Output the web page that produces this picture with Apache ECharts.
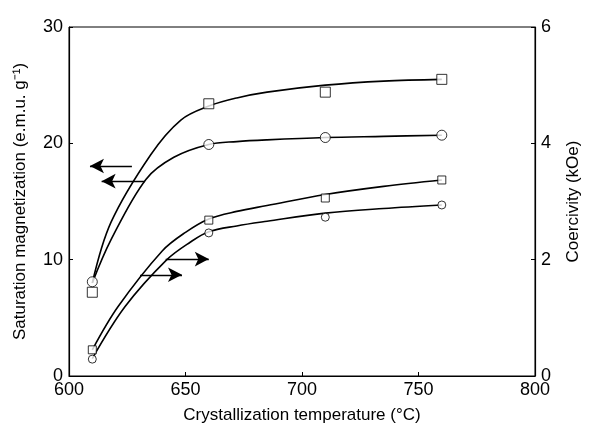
<!DOCTYPE html>
<html>
<head>
<meta charset="utf-8">
<script src="https://cdn.jsdelivr.net/npm/echarts@6/dist/echarts.min.js"></script>
<style>
  html, body { margin: 0; padding: 0; background: #fff; }
  #chart { width: 590px; height: 430px; }
</style>
</head>
<body>
<div id="chart"></div>
<script>
// measured points (crystallization temperature, °C)
const temps = [610, 660, 710, 760]
const magSquare = [7.2, 23.4, 24.4, 25.5]    // e.m.u. g-1
const magCircle = [8.1, 19.9, 20.5, 20.7]
const coerSquare = [0.45, 2.68, 3.06, 3.37]  // kOe
const coerCircle = [0.29, 2.46, 2.73, 2.94]

// fitted curves
const fitMagSqX = [610, 618, 635, 648, 660, 672, 685, 710, 735, 760]
const fitMagSqY = [8.0, 13.2, 19.0, 22.0, 23.2, 23.9, 24.4, 25.0, 25.35, 25.5]
const fitMagCiX = [610, 618, 633, 645, 660, 672, 685, 710, 735, 760]
const fitMagCiY = [8.0, 11.7, 16.9, 18.8, 19.9, 20.15, 20.3, 20.5, 20.6, 20.7]
const fitCoSqX = [610, 621, 640, 650, 660, 672, 685, 710, 735, 760]
const fitCoSqY = [0.45, 1.19, 2.15, 2.47, 2.7, 2.83, 2.93, 3.12, 3.26, 3.37]
const fitCoCiX = [610, 624, 642, 652, 660, 672, 685, 710, 735, 760]
const fitCoCiY = [0.3, 1.19, 2.0, 2.3, 2.48, 2.58, 2.66, 2.8, 2.88, 2.94]

// arrows [x from, y, x to]
const arrowsMag = [[627, 18.05, 609], [632.5, 16.75, 614]]
const arrowsCoer = [[641.5, 2.01, 660], [630.5, 1.74, 648.5]]

const zip = (xs, ys) => xs.map((x, i) => [x, ys[i]])

const lineStyle = { color: '#000', width: 1.6 }
function fitLine(xs, ys, axis, extra) {
  return Object.assign({
    type: 'line',
    yAxisIndex: axis,
    data: zip(xs, ys),
    smooth: 0.35,
    showSymbol: false,
    lineStyle: lineStyle,
    z: 2,
  }, extra || {})
}
function points(ys, axis, symbol, size) {
  return {
    type: 'scatter',
    yAxisIndex: axis,
    data: zip(temps, ys),
    symbol: symbol,
    symbolSize: size,
    itemStyle: { color: '#fff', borderColor: '#000', borderWidth: 1 },
    z: 5,
  }
}
function arrowMark(list) {
  return {
    silent: true,
    symbol: ['none', 'arrow'],
    symbolSize: [11, 14],
    label: { show: false },
    lineStyle: { color: '#000', width: 1.4, type: 'solid' },
    data: list.map(a => [{ coord: [a[0], a[1]] }, { coord: [a[2], a[1]] }]),
  }
}

const font = 'Liberation Sans, Arial, sans-serif'
let chart = echarts.init(document.getElementById('chart'))
chart.setOption({
  animation: false,
  grid: { left: 69, right: 46, top: 27, bottom: 54, show: true, borderColor: '#000', borderWidth: 1 },
  xAxis: {
    type: 'value', min: 600, max: 800, interval: 50,
    name: 'Crystallization temperature (°C)', nameLocation: 'middle', nameGap: 31,
    nameTextStyle: { color: '#000', fontSize: 17, fontFamily: font },
    axisLine: { lineStyle: { color: '#000', width: 1.2 } },
    axisTick: { inside: true, length: 4, lineStyle: { color: '#000' } },
    axisLabel: { color: '#000', fontSize: 18, fontFamily: font, margin: 5 },
    splitLine: { show: false },
  },
  yAxis: [
    {
      type: 'value', min: 0, max: 30, interval: 10,
      name: 'Saturation magnetization (e.m.u. g⁻¹)', nameLocation: 'middle', nameGap: 40,
      nameTextStyle: { color: '#000', fontSize: 17, fontFamily: font },
      axisLine: { lineStyle: { color: '#000', width: 1.2 } },
      axisTick: { inside: true, length: 4, lineStyle: { color: '#000' } },
      axisLabel: { color: '#000', fontSize: 18, fontFamily: font, margin: 6 },
      splitLine: { show: false },
    },
    {
      type: 'value', min: 0, max: 6, interval: 2, position: 'right',
      name: 'Coercivity (kOe)', nameLocation: 'middle', nameGap: 30,
      nameTextStyle: { color: '#000', fontSize: 17, fontFamily: font },
      axisLine: { show: true, lineStyle: { color: '#000', width: 1.2 } },
      axisTick: { inside: true, length: 4, lineStyle: { color: '#000' } },
      axisLabel: { color: '#000', fontSize: 18, fontFamily: font, margin: 6 },
      splitLine: { show: false },
    },
  ],
  series: [
    fitLine(fitMagSqX, fitMagSqY, 0, { markLine: arrowMark(arrowsMag) }),
    fitLine(fitMagCiX, fitMagCiY, 0),
    fitLine(fitCoSqX, fitCoSqY, 1, { markLine: arrowMark(arrowsCoer) }),
    fitLine(fitCoCiX, fitCoCiY, 1),
    points(magSquare, 0, 'rect', 10),
    points(magCircle, 0, 'circle', 10),
    points(coerSquare, 1, 'rect', 8),
    points(coerCircle, 1, 'circle', 8),
  ],
})
</script>
</body>
</html>
